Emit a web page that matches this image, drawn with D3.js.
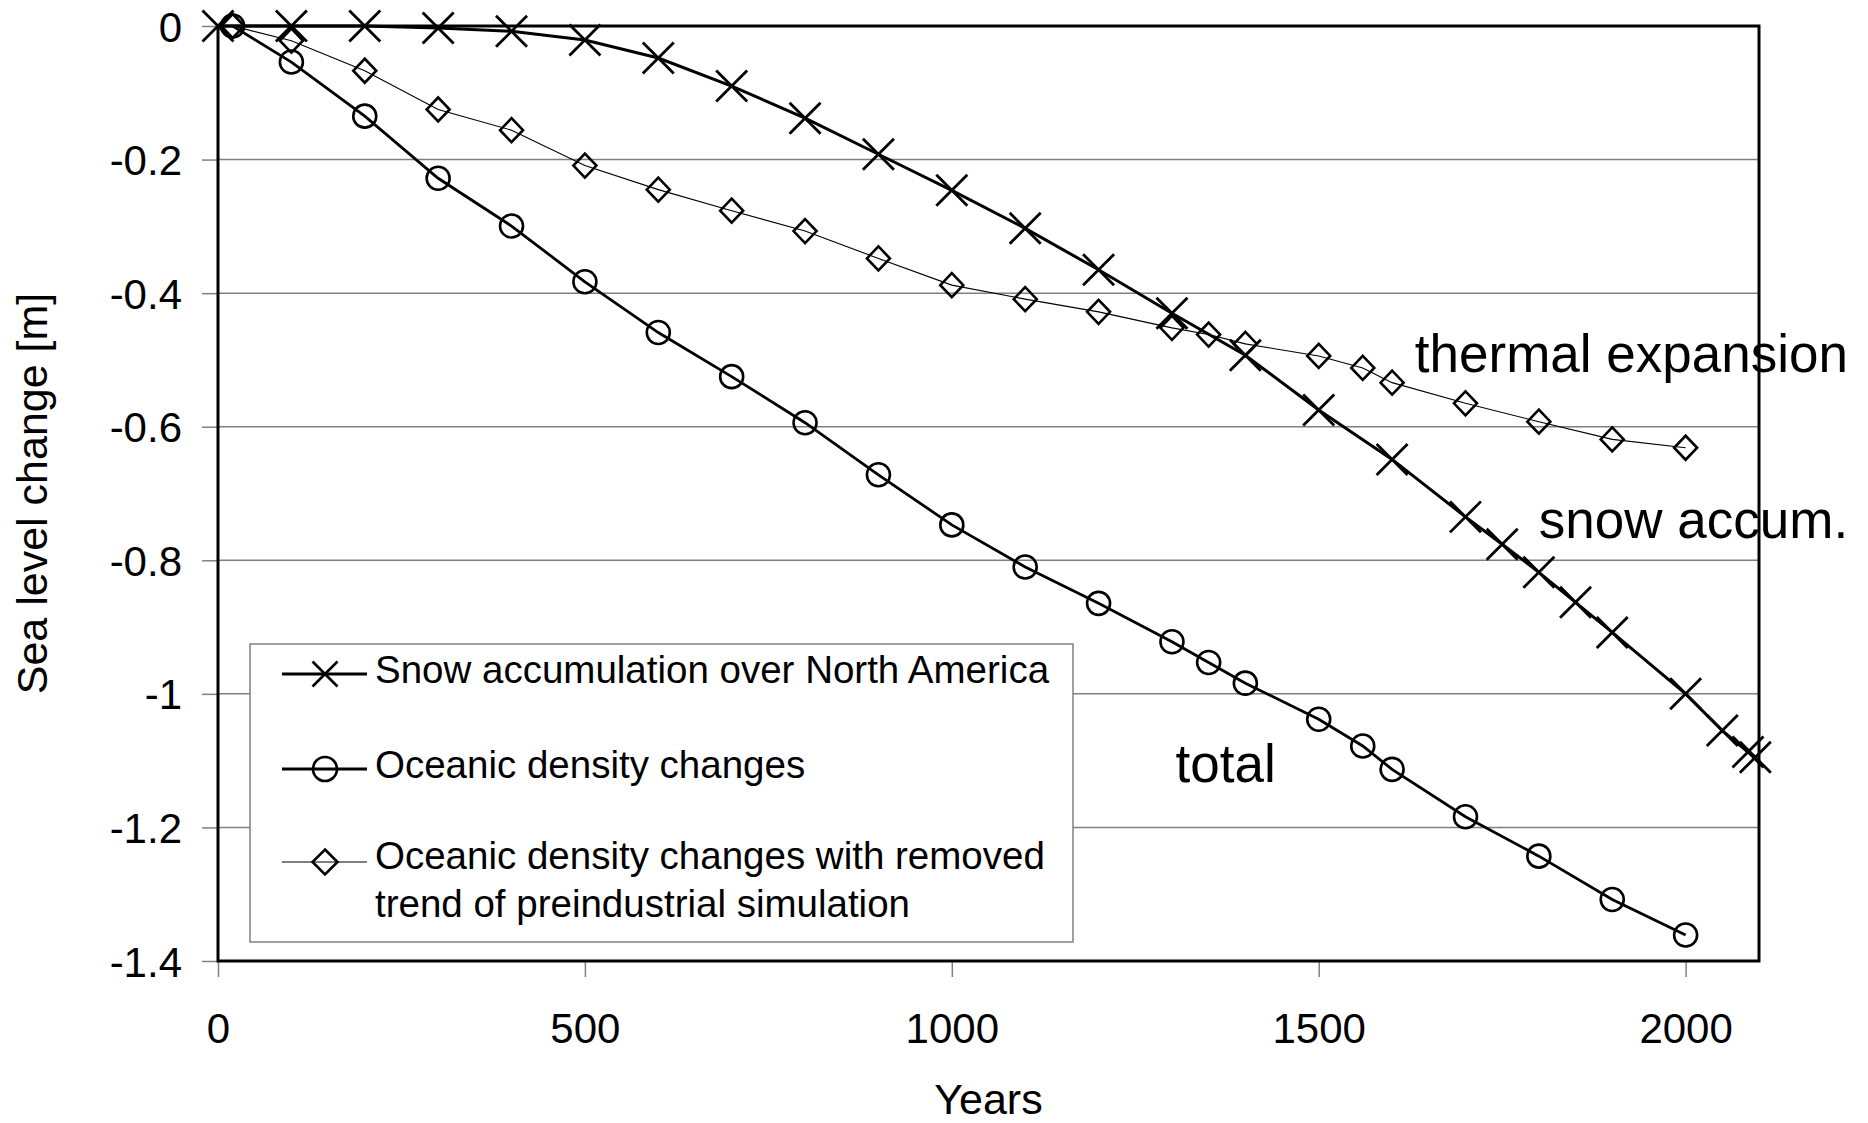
<!DOCTYPE html>
<html>
<head>
<meta charset="utf-8">
<script src="https://cdn.jsdelivr.net/npm/d3@7"></script>
<style>
  html, body { margin: 0; padding: 0; background: #fff; }
  svg { display: block; font-family: "Liberation Sans", Arial, sans-serif; }
</style>
</head>
<body>
<svg id="chart" width="1868" height="1123"></svg>
<script>
// ---- data ----
const snowYears = [0,100,200,300,400,500,600,700,800,900,1000,1100,1200,1300,1400,1500,1600,1700,1750,1800,1850,1900,2000,2050,2085,2095];
const snowValues = [0,0,0,-0.003,-0.008,-0.021,-0.048,-0.09,-0.138,-0.192,-0.246,-0.303,-0.365,-0.430,-0.493,-0.575,-0.649,-0.735,-0.776,-0.818,-0.863,-0.908,-1.0,-1.055,-1.087,-1.095];

const oceanYears = [20,100,200,300,400,500,600,700,800,900,1000,1100,1200,1300,1350,1400,1500,1560,1600,1700,1800,1900,2000];
const oceanValues = [0,-0.054,-0.135,-0.228,-0.2995,-0.383,-0.459,-0.525,-0.594,-0.672,-0.747,-0.810,-0.8645,-0.922,-0.953,-0.984,-1.038,-1.078,-1.113,-1.184,-1.243,-1.308,-1.361];

const detrYears = [20,100,200,300,400,500,600,700,800,900,1000,1100,1200,1300,1350,1400,1500,1560,1600,1700,1800,1900,2000];
const detrValues = [0,-0.022,-0.067,-0.125,-0.156,-0.209,-0.245,-0.2765,-0.307,-0.348,-0.388,-0.409,-0.428,-0.452,-0.462,-0.476,-0.494,-0.512,-0.534,-0.565,-0.5925,-0.619,-0.6315];

const xTicks = [0,500,1000,1500,2000];
const yTicks = [0,-0.2,-0.4,-0.6,-0.8,-1,-1.2,-1.4];
const legendLabels = [
  ["Snow accumulation over North America"],
  ["Oceanic density changes"],
  ["Oceanic density changes with removed", "trend of preindustrial simulation"]
];
const annotations = [
  {text: "thermal expansion", year: 1631, value: -0.518},
  {text: "snow accum.", year: 1800, value: -0.767},
  {text: "total", year: 1305, value: -1.132}
];
const xTitle = "Years";
const yTitle = "Sea level change [m]";

// ---- layout ----
const svg = d3.select("#chart");
const pL = 218, pR = 1759, pT = 26, pB = 961;
const x = d3.scaleLinear().domain([0, 2100]).range([pL, pR]);
const y = d3.scaleLinear().domain([-1.4, 0]).range([pB, pT]);

// gridlines
svg.append("g").selectAll("line").data(yTicks.filter(d => d !== 0 && d !== -1.4)).join("line")
  .attr("x1", pL).attr("x2", pR)
  .attr("y1", d => y(d)).attr("y2", d => y(d))
  .attr("stroke", "#808080").attr("stroke-width", 1.5);

// y axis
const yAxis = d3.axisLeft(y).tickValues(yTicks).tickSize(16).tickPadding(20)
  .tickFormat(d => d === 0 ? "0" : String(+d.toFixed(1)));
const gy = svg.append("g").attr("transform", `translate(${pL},0)`).call(yAxis);
gy.select(".domain").remove();
gy.selectAll(".tick line").attr("stroke", "#808080").attr("stroke-width", 1.5);
gy.selectAll(".tick text").attr("font-size", 42).attr("fill", "#000")
  .attr("font-family", "Liberation Sans, Arial, sans-serif").attr("dy", "0.36em");

// x axis
const xAxis = d3.axisBottom(x).tickValues(xTicks).tickSize(16).tickPadding(36).tickFormat(d3.format("d"));
const gx = svg.append("g").attr("transform", `translate(0,${pB})`).call(xAxis);
gx.select(".domain").remove();
gx.selectAll(".tick line").attr("stroke", "#808080").attr("stroke-width", 1.5);
gx.selectAll(".tick text").attr("font-size", 42).attr("fill", "#000")
  .attr("font-family", "Liberation Sans, Arial, sans-serif");

// plot border
svg.append("rect").attr("x", pL).attr("y", pT).attr("width", pR - pL).attr("height", pB - pT)
  .attr("fill", "none").attr("stroke", "#000").attr("stroke-width", 3);

// axis titles
svg.append("text").attr("x", (pL + pR) / 2).attr("y", 1114).attr("text-anchor", "middle")
  .attr("font-size", 43).text(xTitle);
svg.append("text").attr("transform", `translate(47,${(pT + pB) / 2}) rotate(-90)`)
  .attr("text-anchor", "middle").attr("font-size", 43).text(yTitle);

// markers
function xMark(g, cx, cy, h, sw) {
  g.append("path").attr("d", `M${cx - h},${cy - h}L${cx + h},${cy + h}M${cx - h},${cy + h}L${cx + h},${cy - h}`)
    .attr("stroke", "#000").attr("stroke-width", sw).attr("fill", "none");
}
function diamond(g, cx, cy, hw, hh, sw) {
  g.append("path").attr("d", `M${cx},${cy - hh}L${cx + hw},${cy}L${cx},${cy + hh}L${cx - hw},${cy}Z`)
    .attr("stroke", "#000").attr("stroke-width", sw).attr("fill", "none");
}
function circ(g, cx, cy, r, sw) {
  g.append("circle").attr("cx", cx).attr("cy", cy).attr("r", r)
    .attr("stroke", "#000").attr("stroke-width", sw).attr("fill", "none");
}

const line = d3.line().x(d => x(d[0])).y(d => y(d[1]));
const snowPts = snowYears.map((d, i) => [d, snowValues[i]]);
const oceanPts = oceanYears.map((d, i) => [d, oceanValues[i]]);
const detrPts = detrYears.map((d, i) => [d, detrValues[i]]);

// detrended (thin)
svg.append("path").datum(detrPts).attr("d", line).attr("fill", "none").attr("stroke", "#000").attr("stroke-width", 1.1);
const gD = svg.append("g");
detrPts.forEach(p => diamond(gD, x(p[0]), y(p[1]), 11.5, 12, 2.6));

// ocean (circles)
svg.append("path").datum(oceanPts).attr("d", line).attr("fill", "none").attr("stroke", "#000").attr("stroke-width", 2.8);
const gO = svg.append("g");
oceanPts.forEach(p => circ(gO, x(p[0]), y(p[1]), 11.5, 2.6));

// snow (X)
svg.append("path").datum(snowPts).attr("d", line).attr("fill", "none").attr("stroke", "#000").attr("stroke-width", 3);
const gS = svg.append("g");
snowPts.forEach(p => xMark(gS, x(p[0]), y(p[1]), 15.5, 2.8));

// annotations
svg.append("g").selectAll("text").data(annotations).join("text")
  .attr("x", d => x(d.year)).attr("y", d => y(d.value))
  .attr("font-size", 53).attr("fill", "#000").text(d => d.text);

// legend
const lg = svg.append("g");
lg.append("rect").attr("x", 250).attr("y", 644).attr("width", 823).attr("height", 298)
  .attr("fill", "#fff").attr("stroke", "#808080").attr("stroke-width", 1.5);
const symY = [674, 769, 862];
const textY = [683, 778, 869];
const lineW = [2.8, 2.8, 1.1];
legendLabels.forEach((lines, i) => {
  lg.append("line").attr("x1", 282).attr("x2", 367).attr("y1", symY[i]).attr("y2", symY[i])
    .attr("stroke", "#000").attr("stroke-width", lineW[i]);
  if (i === 0) xMark(lg, 325, symY[i], 12.5, 2.6);
  if (i === 1) circ(lg, 325, symY[i], 12, 2.6);
  if (i === 2) diamond(lg, 325, symY[i], 12.5, 12.5, 2.6);
  lines.forEach((t, j) => {
    lg.append("text").attr("x", 375).attr("y", textY[i] + j * 48)
      .attr("font-size", 38.5).attr("fill", "#000").text(t);
  });
});
</script>
</body>
</html>
